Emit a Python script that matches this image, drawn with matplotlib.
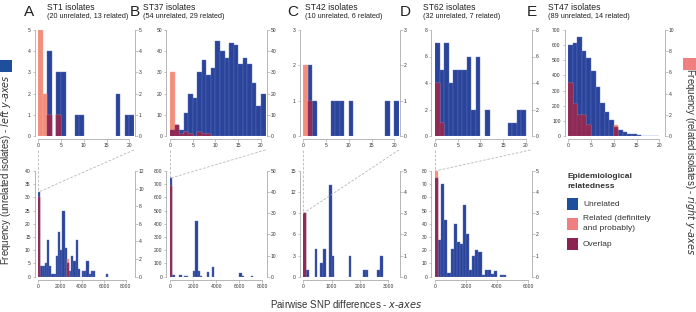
import numpy as np
import matplotlib.pyplot as plt
from matplotlib.patches import Rectangle
from matplotlib.lines import Line2D

plt.rcParams['font.family'] = ['Liberation Sans', 'DejaVu Sans']

# ---------------- data ----------------
letters = ['A', 'B', 'C', 'D', 'E']
st_names = ['ST1', 'ST37', 'ST42', 'ST62', 'ST47']
n_unrel = [20, 54, 10, 32, 89]
n_rel = [13, 29, 6, 7, 14]

# top row: pairwise SNP differences 0..20 (bins of 1)
top_unrel_A = [0, 0, 4, 0, 3, 3, 0, 0, 1, 1, 0, 0, 0, 0, 0, 0, 0, 2, 0, 1, 1]
top_rel_A = [5, 2, 1, 0, 1, 0, 0, 0, 0, 0, 0, 0, 0, 0, 0, 0, 0, 0, 0, 0, 0]
top_unrel_B = [3, 5, 3, 11, 20, 18, 30, 36, 29, 32, 45, 40, 37, 44, 43, 34, 37, 34, 25, 14, 20]
top_rel_B = [30, 5, 1, 2, 1, 0, 2, 1, 1, 0, 0, 0, 0, 0, 0, 0, 0, 0, 0, 0, 0]
top_unrel_C = [0, 2, 1, 0, 0, 0, 1, 1, 1, 0, 1, 0, 0, 0, 0, 0, 0, 0, 1, 0, 1]
top_rel_C = [2, 1, 0, 0, 0, 0, 0, 0, 0, 0, 0, 0, 0, 0, 0, 0, 0, 0, 0, 0, 0]
top_unrel_D = [7, 5, 7, 4, 5, 5, 5, 6, 2, 6, 0, 2, 0, 0, 0, 0, 1, 1, 2, 2, 0]
top_rel_D = [4, 1, 0, 0, 0, 0, 0, 0, 0, 0, 0, 0, 0, 0, 0, 0, 0, 0, 0, 0, 0]
top_unrel_E = [600, 612, 656, 563, 513, 431, 321, 216, 160, 106, 60, 40, 25, 15, 10, 5, 3, 2, 1, 1, 0]
top_rel_E = [5, 3, 2, 2, 1, 0, 0, 0, 0, 0, 1, 0, 0, 0, 0, 0, 0, 0, 0, 0, 0]

top_left_max = [5, 50, 3, 8, 700]
top_left_step = [1, 10, 1, 2, 100]
top_right_max = [5, 50, 3, 8, 10]
top_right_step = [1, 10, 1, 2, 2]

# bottom row: full range of pairwise SNP differences
bot_unrel_A = [32, 4, 4, 5, 14, 4, 1, 1, 8, 17, 10, 25, 11, 5, 2, 8, 6, 14, 3, 0,
               2, 2, 6, 1, 2, 2, 0, 0, 0, 0, 0, 1]
bot_rel_A = [9, 0, 0, 0, 0, 0, 0, 0, 0, 0, 0, 0, 0, 2]
bot_unrel_B = [745, 12, 0, 0, 10, 0, 5, 5, 0, 0, 40, 425, 40, 5, 0, 0, 35, 0, 70, 0,
               0, 0, 0, 0, 0, 0, 0, 0, 0, 0, 25, 5, 0, 0, 0, 5]
bot_rel_B = [43]
bot_unrel_C = [9, 1, 0, 0, 4, 0, 2, 4, 0, 13, 3, 0, 0, 0, 0, 0, 3, 0, 0, 0,
               0, 1, 1, 0, 0, 0, 1, 3]
bot_rel_C = [3]
bot_unrel_D = [75, 28, 70, 43, 3, 21, 40, 26, 25, 54, 32, 5, 16, 20, 19, 1, 5, 5, 2, 4,
               0, 1, 1]
bot_rel_D = [5]

bot_binw = [200, 200, 100, 200]
bot_xmax = [8720, 8280, 3370, 6150]
bot_xticks = [[0, 2000, 4000, 6000, 8000], [0, 2000, 4000, 6000, 8000],
              [0, 1000, 2000, 3000], [0, 2000, 4000, 6000]]
bot_left_max = [40, 800, 15, 80]
bot_left_step = [5, 100, 3, 10]
bot_right_max = [12, 50, 5, 5]
bot_right_step = [2, 10, 1, 1]

top_unrel = [top_unrel_A, top_unrel_B, top_unrel_C, top_unrel_D, top_unrel_E]
top_rel = [top_rel_A, top_rel_B, top_rel_C, top_rel_D, top_rel_E]
bot_unrel = [bot_unrel_A, bot_unrel_B, bot_unrel_C, bot_unrel_D]
bot_rel = [bot_rel_A, bot_rel_B, bot_rel_C, bot_rel_D]

BLUE = '#2a449b'
BLUE_EDGE = '#5d72b8'
SALMON = '#f48e7c'
MAROON = '#8d2a56'
GREY = '#9a9a9a'
TXT = '#333333'

# ---------------- layout (pixels) ----------------
W, H = 696, 312
fig = plt.figure(figsize=(W / 100, H / 100), dpi=100)

ax_x0 = [38.3, 170, 303.3, 435, 568.3]
ax_w = 95.5
letter_x = [24, 129.5, 287, 400, 527]
title_x = [47, 143, 305, 423, 548]


def px_axes(x0, ytop, w, h):
    return fig.add_axes([x0 / W, 1 - (ytop + h) / H, w / W, h / H])


def style(ax, tw, xticks, lmax, lstep, rmax, rstep):
    for s in ['top', 'right']:
        ax.spines[s].set_visible(False)
    for s in ['top', 'left', 'bottom']:
        tw.spines[s].set_visible(False)
    ax.spines['left'].set_position(('outward', 2.7))
    ax.spines['bottom'].set_position(('outward', 2.2))
    tw.spines['right'].set_position(('outward', 0.9))
    for sp in [ax.spines['left'], ax.spines['bottom'], tw.spines['right']]:
        sp.set_color(GREY)
        sp.set_linewidth(0.5)
    ax.spines['bottom'].set_bounds(xticks[0], xticks[-1])
    ax.set_xticks(xticks)
    ax.set_ylim(0, lmax)
    ax.set_yticks(np.arange(0, lmax + lstep / 2, lstep))
    tw.set_ylim(0, rmax)
    tw.set_yticks(np.arange(0, rmax + rstep / 2, rstep))
    for a in [ax, tw]:
        a.tick_params(length=1.8, width=0.4, color=GREY, labelsize=3.6,
                      labelcolor=TXT, pad=1)
    ax.patch.set_visible(False)


def draw_bars(ax, tw, unrel, rel, binw, lmax, rmax):
    u = np.array(unrel, dtype=float)
    r = np.zeros(len(u))
    r[:len(rel)] = rel
    x = np.arange(len(u)) * binw
    ov = np.minimum(r, u * rmax / lmax)
    m = u > 0
    ax.bar(x[m], u[m], width=binw, align='edge', color=BLUE,
           edgecolor=BLUE_EDGE, linewidth=0.3)
    m = r > 0
    tw.bar(x[m], r[m], width=binw, align='edge', color=SALMON,
           edgecolor='#f6a898', linewidth=0.3)
    m = ov > 0
    tw.bar(x[m], ov[m], width=binw, align='edge', color=MAROON,
           edgecolor='#9c4068', linewidth=0.3)
    # height of first bin in left-axis units (for the zoom lines)
    return max(u[0], r[0] * lmax / rmax)


top_axes = []
for i in range(5):
    ax = px_axes(ax_x0[i], 30, ax_w, 106)
    tw = ax.twinx()
    ax.set_xlim(0, 21)
    draw_bars(ax, tw, top_unrel[i], top_rel[i], 1, top_left_max[i], top_right_max[i])
    style(ax, tw, [0, 5, 10, 15, 20], top_left_max[i], top_left_step[i],
          top_right_max[i], top_right_step[i])
    top_axes.append(ax)

    fig.text(letter_x[i] / W, 1 - 11.5 / H, letters[i], fontsize=11,
             color='#222222', va='center', ha='left')
    fig.text(title_x[i] / W, 1 - 7 / H, st_names[i] + ' isolates', fontsize=6.2,
             color='#222222', va='center', ha='left')
    fig.text(title_x[i] / W, 1 - 16.5 / H,
             '(%d unrelated, %d related)' % (n_unrel[i], n_rel[i]), fontsize=5.2,
             color='#222222', va='center', ha='left')

inv = fig.transFigure.inverted()
for i in range(4):
    ax = px_axes(ax_x0[i], 171, ax_w, 105.7)
    tw = ax.twinx()
    ax.set_xlim(0, bot_xmax[i])
    h0 = draw_bars(ax, tw, bot_unrel[i], bot_rel[i], bot_binw[i],
                   bot_left_max[i], bot_right_max[i])
    style(ax, tw, bot_xticks[i], bot_left_max[i], bot_left_step[i],
          bot_right_max[i], bot_right_step[i])

    # dashed zoom lines from top panel x-range to first bin of bottom panel
    tax = top_axes[i]
    end = inv.transform(ax.transData.transform((0, h0)))
    for xv in [0, 21]:
        start = inv.transform(tax.get_xaxis_transform().transform((xv, -0.132)))
        fig.add_artist(Line2D([start[0], end[0]], [start[1], end[1]],
                              transform=fig.transFigure, color='#b5b5b5',
                              lw=0.6, dashes=(3, 2)))

# axis labels
fig.text(6 / W, 1 - 170 / H,
         r'Frequency (unrelated isolates) - $\it{left\ y}$-$\it{axes}$',
         rotation=90, fontsize=6.9, color=TXT, ha='center', va='center')
fig.text(690 / W, 1 - 161 / H,
         r'Frequency (related isolates) - $\it{right\ y}$-$\it{axes}$',
         rotation=-90, fontsize=6.9, color=TXT, ha='center', va='center')
fig.text(0.497, 1 - 304 / H, r'Pairwise SNP differences - $\it{x}$-$\it{axes}$',
         fontsize=7, color=TXT, ha='center', va='center')

fig.add_artist(Rectangle((0, 1 - 72 / H), 11.7 / W, 12 / H,
                         transform=fig.transFigure, color='#1f4e9c', lw=0))
fig.add_artist(Rectangle((683 / W, 1 - 70 / H), 13 / W, 12 / H,
                         transform=fig.transFigure, color='#f08080', lw=0))

# legend
fig.text(567 / W, 1 - 176 / H, 'Epidemiological', fontsize=6, fontweight='bold',
         color=TXT, va='center', ha='left')
fig.text(567 / W, 1 - 186 / H, 'relatedness', fontsize=6, fontweight='bold',
         color=TXT, va='center', ha='left')
leg_colors = ['#1f4e9c', '#f08080', '#8b2252']
leg_top = [198, 218, 238]
for c, yt in zip(leg_colors, leg_top):
    fig.add_artist(Rectangle((567 / W, 1 - (yt + 12) / H), 10.5 / W, 12 / H,
                             transform=fig.transFigure, color=c, lw=0))
fig.text(583 / W, 1 - 204 / H, 'Unrelated', fontsize=6, color=TXT, va='center')
fig.text(583 / W, 1 - 218.5 / H, 'Related (definitely', fontsize=6, color=TXT, va='center')
fig.text(583 / W, 1 - 229 / H, 'and probably)', fontsize=6, color=TXT, va='center')
fig.text(583 / W, 1 - 244 / H, 'Overlap', fontsize=6, color=TXT, va='center')

fig.savefig('out.png', dpi=100)
